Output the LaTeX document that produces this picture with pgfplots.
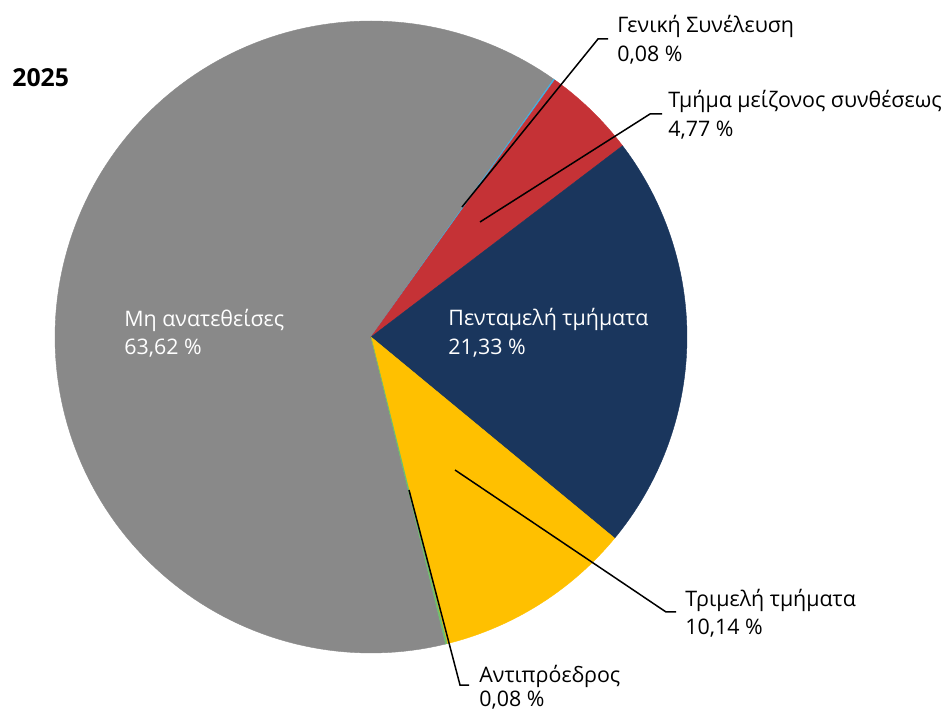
\documentclass[border=0pt]{standalone}
\usepackage{pgfplots}
\pgfplotsset{compat=1.18}
\usepackage{fontspec}
\setmainfont{Open Sans}

\definecolor{cgray}{HTML}{898989}
\definecolor{cred}{HTML}{C53236}
\definecolor{cnavy}{HTML}{1A365D}
\definecolor{cyellow}{HTML}{FFC000}
\definecolor{cblue}{HTML}{45B0E1}
\definecolor{cgreen}{HTML}{6DBE6D}

% shares in percent, clockwise from Geniki Synelefsi
\def\pGen{0.08}
\def\pMeiz{4.77}
\def\pPent{21.33}
\def\pTrim{10.14}
\def\pAnti{0.08}
\def\pMh{63.62}

% slice angles (math degrees, going clockwise)
\pgfmathsetmacro\aA{54.7}
\pgfmathsetmacro\aB{\aA-3.6*\pGen}
\pgfmathsetmacro\aC{\aB-3.6*\pMeiz}
\pgfmathsetmacro\aD{\aC-3.6*\pPent}
\pgfmathsetmacro\aE{\aD-3.6*\pTrim}
\pgfmathsetmacro\aF{\aE-3.6*\pAnti}
\pgfmathsetmacro\aG{\aF-3.6*\pMh}

\tikzset{lbl/.style={font=\fontsize{10.7}{12}\selectfont, inner sep=0pt, anchor=base west}}

\begin{document}
\begin{tikzpicture}
\begin{axis}[
    hide axis,
    scale only axis,
    width=473pt, height=355.5pt,
    xmin=0, xmax=946, ymin=0, ymax=711,
    clip=false,
    ]
% keeps the whole frame in the bounding box
\addplot[draw=none] coordinates {(0,0) (946,711)};

\addplot[fill=cgray, draw=cgray, line width=0.2pt, domain=\aG:\aF, samples=150, variable=\t]
  ({371+316*cos(\t)},{374+316*sin(\t)}) -- (axis cs:371,374) -- cycle;
\addplot[fill=cblue, draw=cblue, line width=0.2pt, domain=\aB:\aA, samples=3, variable=\t]
  ({371+316*cos(\t)},{374+316*sin(\t)}) -- (axis cs:371,374) -- cycle;
\addplot[fill=cred, draw=cred, line width=0.2pt, domain=\aC:\aB, samples=30, variable=\t]
  ({371+316*cos(\t)},{374+316*sin(\t)}) -- (axis cs:371,374) -- cycle;
\addplot[fill=cnavy, draw=cnavy, line width=0.2pt, domain=\aD:\aC, samples=80, variable=\t]
  ({371+316*cos(\t)},{374+316*sin(\t)}) -- (axis cs:371,374) -- cycle;
\addplot[fill=cyellow, draw=cyellow, line width=0.2pt, domain=\aE:\aD, samples=50, variable=\t]
  ({371+316*cos(\t)},{374+316*sin(\t)}) -- (axis cs:371,374) -- cycle;
\addplot[fill=cgreen, draw=cgreen, line width=0.2pt, domain=\aF:\aE, samples=3, variable=\t]
  ({371+316*cos(\t)},{374+316*sin(\t)}) -- (axis cs:371,374) -- cycle;

% leader lines
\addplot[black, line width=0.75pt] coordinates {(462,504) (598,672) (608,672)};
\addplot[black, line width=0.75pt] coordinates {(480,489) (650,597) (662,597)};
\addplot[black, line width=0.75pt] coordinates {(455,241) (666,99) (676,99)};
\addplot[black, line width=0.75pt] coordinates {(409,221) (460,26) (469,26)};

% labels
\node[lbl, font=\fontsize{12.4}{14}\selectfont\bfseries] at (axis cs:12,624) {2025};
\node[lbl] at (axis cs:617,678) {Γενική Συνέλευση};
\node[lbl] at (axis cs:617,649) {0,08 \%};
\node[lbl] at (axis cs:668,603) {Τμήμα μείζονος συνθέσεως};
\node[lbl] at (axis cs:668,574) {4,77 \%};
\node[lbl] at (axis cs:685,104) {Τριμελή τμήματα};
\node[lbl] at (axis cs:685,76) {10,14 \%};
\node[lbl] at (axis cs:479,28) {Αντιπρόεδρος};
\node[lbl] at (axis cs:479,4) {0,08 \%};
\node[lbl, text=white] at (axis cs:124,384) {Μη ανατεθείσες};
\node[lbl, text=white] at (axis cs:124,356) {63,62 \%};
\node[lbl, text=white] at (axis cs:448,385) {Πενταμελή τμήματα};
\node[lbl, text=white] at (axis cs:448,356) {21,33 \%};
\end{axis}
\end{tikzpicture}
\end{document}
